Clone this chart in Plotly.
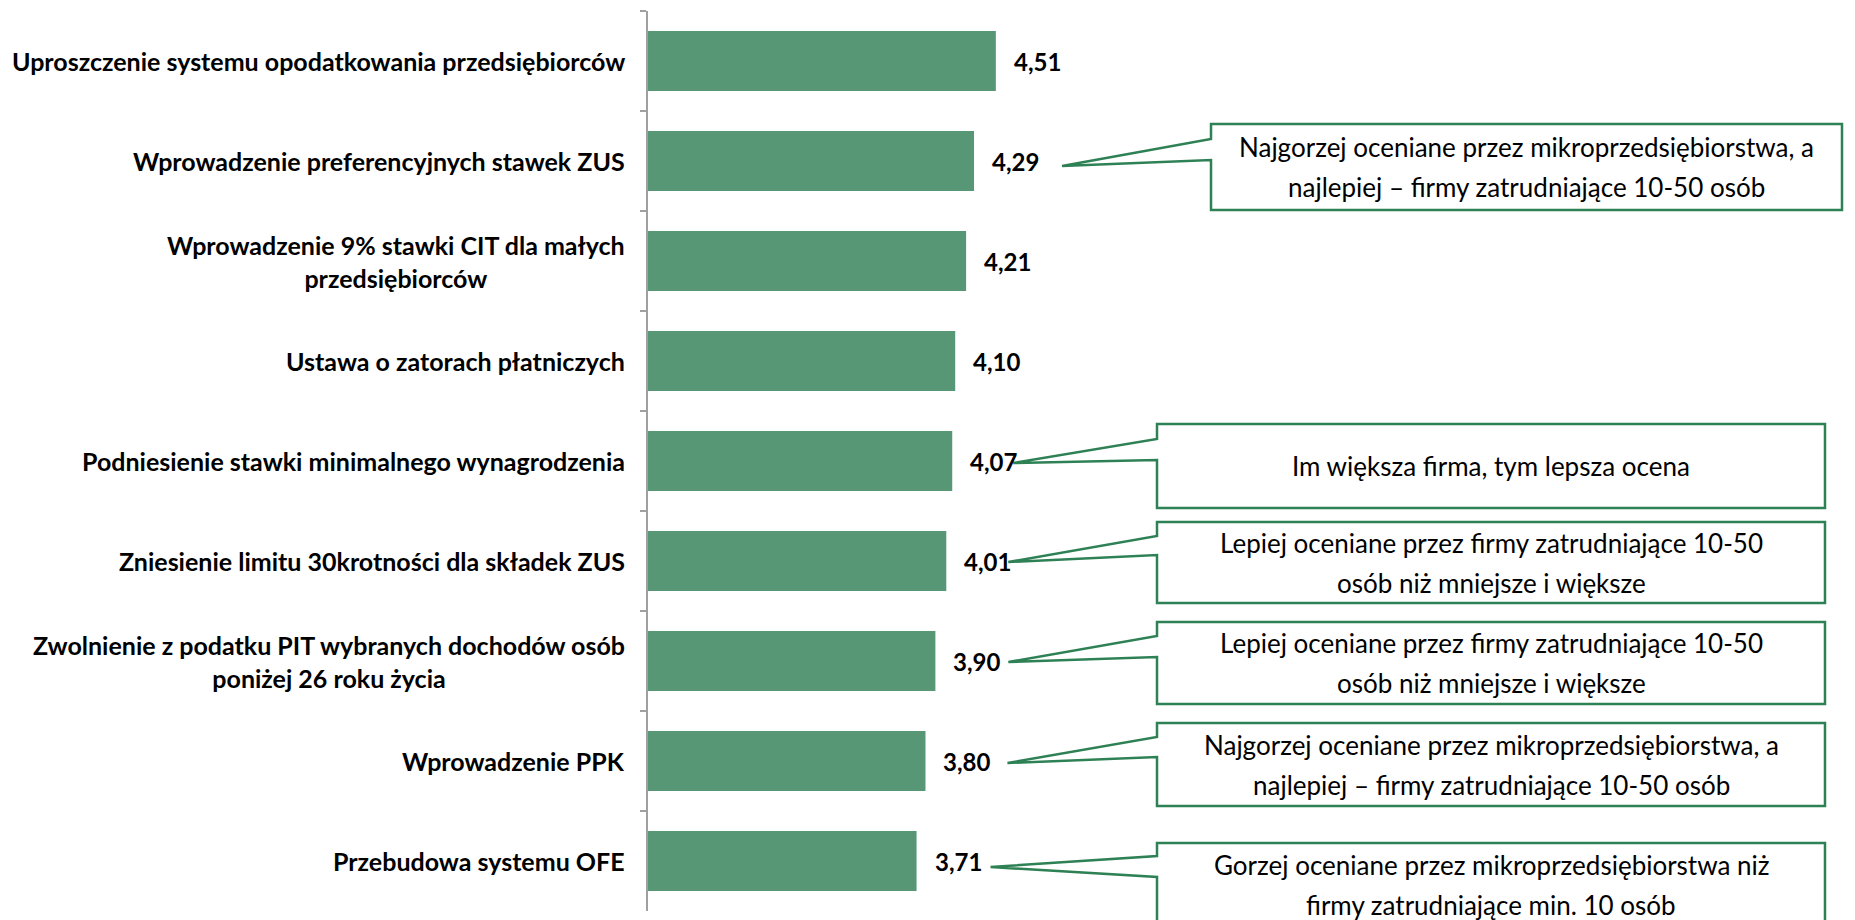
import plotly.graph_objects as go

# ---------------- data ----------------
categories = [
    "Uproszczenie systemu opodatkowania przedsiębiorców",
    "Wprowadzenie preferencyjnych stawek ZUS",
    "Wprowadzenie 9% stawki CIT dla małych<br>przedsiębiorców",
    "Ustawa o zatorach płatniczych",
    "Podniesienie stawki minimalnego wynagrodzenia",
    "Zniesienie limitu 30krotności dla składek ZUS",
    "Zwolnienie z podatku PIT wybranych dochodów osób<br>poniżej 26 roku życia",
    "Wprowadzenie PPK",
    "Przebudowa systemu OFE",
]
values = [4.51, 4.29, 4.21, 4.10, 4.07, 4.01, 3.90, 3.80, 3.71]

callout_rows = [1, 4, 5, 6, 7, 8]
callout_texts = [
    ["Najgorzej oceniane przez mikroprzedsiębiorstwa, a", "najlepiej – firmy zatrudniające 10-50 osób"],
    ["Im większa firma, tym lepsza ocena"],
    ["Lepiej oceniane przez firmy zatrudniające 10-50", "osób niż mniejsze i większe"],
    ["Lepiej oceniane przez firmy zatrudniające 10-50", "osób niż mniejsze i większe"],
    ["Najgorzej oceniane przez mikroprzedsiębiorstwa, a", "najlepiej – firmy zatrudniające 10-50 osób"],
    ["Gorzej oceniane przez mikroprzedsiębiorstwa niż", "firmy zatrudniające min. 10 osób"],
]

# ---------------- layout geometry / styles ----------------
W, H = 1855, 920
L, R, T, B = 648, 0, 11, 9
PW, PH = W - L - R, H - T - B
X0 = 1.0
PX_PER_UNIT = 99.1
X1 = X0 + PW / PX_PER_UNIT
ROW = PH / len(categories)

BAR_COLOR = "#579775"
LINE_GREEN = "#2E8055"
AXIS_GRAY = "#A0A0A0"
FONT = "Lato"

# callout box geometry in pixels: (left, top, right, bottom), wedge joins (y1, y2), tip offsets from bar end/centre
callout_geom = [
    dict(box=(1211, 124, 1842, 210), join=(139, 160), tip=(88, 5)),
    dict(box=(1157, 424, 1825, 508), join=(439, 460), tip=(61, 2)),
    dict(box=(1157, 522, 1825, 603), join=(536, 555), tip=(62, 1)),
    dict(box=(1157, 622, 1825, 704), join=(636, 657), tip=(73, 1)),
    dict(box=(1157, 723, 1825, 806), join=(737, 757), tip=(82, 2)),
    dict(box=(1157, 843, 1825, 927), join=(856, 877), tip=(74, 6)),
]


def fx(px):
    return (px - L) / PW


def fy(py):
    return (T + PH - py) / PH


fig = go.Figure()
fig.add_trace(go.Bar(
    x=values, y=categories, orientation="h",
    marker=dict(color=BAR_COLOR, line=dict(width=0)),
    width=0.6, hoverinfo="skip",
))

annotations = []
# category labels
for c in categories:
    annotations.append(dict(
        x=0, xref="paper", y=c, yref="y", xanchor="right", yanchor="middle",
        xshift=-21, text="<b>%s</b>" % c, showarrow=False, align="center",
        font=dict(family=FONT, size=25, color="#000000"),
    ))
# value labels
for c, v in zip(categories, values):
    annotations.append(dict(
        x=v, xref="x", y=c, yref="y", xanchor="left", yanchor="middle",
        xshift=16, text="<b>%s</b>" % f"{v:.2f}".replace(".", ","), showarrow=False,
        font=dict(family=FONT, size=24, color="#000000"),
    ))

shapes = []
for row, lines, g in zip(callout_rows, callout_texts, callout_geom):
    l, t, r, b = g["box"]
    j1, j2 = g["join"]
    bar_end_px = L + (values[row] - X0) * PX_PER_UNIT
    bar_mid_py = T + (row + 0.5) * ROW
    tx = bar_end_px + g["tip"][0]
    ty = bar_mid_py + g["tip"][1]
    pts = [(l, t), (r, t), (r, b), (l, b), (l, j2), (tx, ty), (l, j1)]
    path = "M " + " L ".join("%.5f,%.5f" % (fx(px), fy(py)) for px, py in pts) + " Z"
    shapes.append(dict(type="path", xref="paper", yref="paper", path=path,
                       fillcolor="white", line=dict(color=LINE_GREEN, width=2.5), layer="above"))
    cx = (l + r) / 2
    cy = (t + b) / 2
    n = len(lines)
    spacing = 40
    for k, ln in enumerate(lines):
        ly = cy + (k - (n - 1) / 2) * spacing
        annotations.append(dict(
            x=fx(cx), xref="paper", y=fy(ly), yref="paper", xanchor="center", yanchor="middle",
            text=ln, showarrow=False, font=dict(family=FONT, size=26, color="#000000"),
        ))

fig.update_layout(
    width=W, height=H,
    margin=dict(l=L, r=R, t=T, b=B, pad=0),
    paper_bgcolor="white", plot_bgcolor="white",
    showlegend=False,
    bargap=0.4,
    xaxis=dict(range=[X0, X1], visible=False, fixedrange=True),
    yaxis=dict(
        type="category", categoryorder="array", categoryarray=categories,
        autorange="reversed", showticklabels=False, showgrid=False, zeroline=False,
        showline=True, linecolor=AXIS_GRAY, linewidth=2,
        ticks="outside", ticklen=6, tickwidth=2, tickcolor=AXIS_GRAY, tickson="boundaries",
    ),
    shapes=shapes,
    annotations=annotations,
    font=dict(family=FONT),
)

fig.write_html(
    "out.html",
    config={"displayModeBar": False},
    post_script="document.body.style.margin='0';document.body.style.overflow='hidden';",
)
